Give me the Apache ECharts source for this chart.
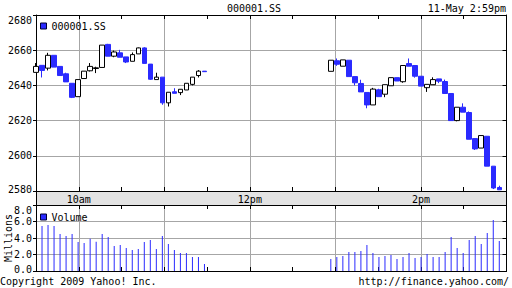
<!DOCTYPE html>
<html><head><meta charset="utf-8">
<script src="https://cdn.jsdelivr.net/npm/echarts@6/dist/echarts.min.js"></script>
<style>html,body{margin:0;padding:0;background:#fff}#c{width:512px;height:288px}</style>
</head><body><div id="c"></div>
<script>
// ---- data ----
const symbol = '000001.SS';
const stamp = '11-May 2:59pm';
const copyright = 'Copyright 2009 Yahoo! Inc.';
const sourceUrl = 'http://finance.yahoo.com/';
const volumeUnit = 'Millions';
const timeLabels = ['9:30','10am','10:30','11am','11:30','12pm','12:30','1pm','1:30','2pm','2:30','3pm'];
const shownTimeLabels = ['10am','12pm','2pm'];
const priceMin = 2580, priceMax = 2680, priceStep = 20;
const volMin = 0, volMax = 8, volStep = 2;
// bar slots across the session (9:30 .. 15:00)
const sessionSlots = 78.2;
const morningFirstSlot = 0;
const afternoonFirstSlot = 49;
const morningVolumeFirstSlot = 1;
// [open, close, low, high]
const morningOHLC = [
  [2647.4,2650.8,2647.4,2652.7],[2651.4,2648.5,2644.5,2651.4],[2649.8,2657.1,2648.5,2658.5],
  [2657.1,2650.4,2650.4,2657.1],[2650.8,2645.6,2645.6,2650.8],[2646.6,2642.0,2642.0,2647.2],
  [2641.2,2633.2,2632.8,2641.2],[2633.6,2643.3,2633.6,2643.3],[2643.9,2648.1,2643.9,2648.1],
  [2648.3,2650.8,2647.9,2652.7],[2649.6,2650.0,2647.0,2650.6],[2650.2,2662.9,2650.2,2662.9],
  [2663.3,2656.6,2656.6,2663.6],[2656.6,2659.0,2656.0,2659.8],[2658.5,2656.0,2656.0,2660.2],
  [2656.2,2653.3,2652.7,2656.2],[2653.7,2657.5,2653.7,2658.7],[2657.9,2661.3,2657.9,2661.5],
  [2661.3,2652.5,2652.5,2661.7],[2652.1,2643.5,2643.1,2652.1],[2643.3,2644.7,2643.3,2647.2],
  [2644.7,2630.1,2629.0,2644.7],[2630.1,2636.1,2628.0,2636.1],[2636.4,2635.5,2635.5,2638.4],
  [2635.9,2637.8,2634.5,2637.8],[2637.4,2641.2,2637.4,2641.2],[2640.6,2644.7,2640.0,2644.7],
  [2645.6,2648.1,2644.5,2648.7],[2648.1,2647.8,2647.8,2648.1]
];
const afternoonOHLC = [
  [2648.0,2654.3,2648.0,2654.3],[2654.0,2652.0,2651.1,2655.3],[2650.9,2654.5,2650.9,2654.5],
  [2654.3,2645.0,2645.0,2654.3],[2645.0,2641.5,2640.0,2645.0],[2641.1,2636.3,2636.3,2643.2],
  [2636.0,2628.9,2627.0,2636.0],[2628.9,2637.9,2628.9,2638.6],[2637.5,2633.6,2633.6,2638.1],
  [2635.0,2640.4,2633.3,2640.4],[2639.8,2644.4,2639.8,2644.4],[2644.4,2642.5,2642.5,2644.4],
  [2642.1,2651.3,2641.5,2651.3],[2652.4,2650.9,2650.9,2655.3],[2651.3,2645.2,2644.4,2651.3],
  [2645.2,2639.6,2639.6,2645.2],[2638.7,2640.6,2636.3,2640.6],[2640.4,2643.3,2640.4,2644.6],
  [2643.7,2642.4,2641.3,2643.7],[2642.2,2635.4,2635.4,2643.3],[2635.4,2620.0,2620.0,2635.4],
  [2620.0,2627.6,2619.6,2627.6],[2627.6,2624.8,2624.8,2629.8],[2624.6,2609.4,2609.4,2625.2],
  [2609.8,2603.9,2603.3,2609.8],[2604.4,2611.5,2604.4,2611.5],[2611.1,2594.1,2594.1,2611.1],
  [2594.1,2581.7,2581.1,2594.1],[2582.0,2580.7,2580.7,2583.0]
];
// millions
const morningVolume = [5.45,5.58,5.45,4.48,4.24,4.48,3.52,3.39,3.92,3.56,4.48,4.12,3.03,3.15,
  2.79,2.55,2.67,3.52,3.76,2.67,4.24,3.27,2.55,2.18,2.18,1.70,1.70,0.85];
const afternoonVolume = [1.45,1.70,1.82,2.30,2.30,2.42,3.15,2.18,1.70,1.82,1.94,1.45,1.70,2.18,
  1.58,1.70,2.06,1.70,1.70,2.30,4.12,2.79,2.18,3.76,4.24,3.27,4.61,6.18,3.64];

// ---- chart ----
const FONT = 'DejaVu Sans Mono';
const BLUE = '#2a2aff';
const GRIDC = '#a6a6a6';
const txt = {fontFamily: FONT, fontSize: 10, color: '#000'};
const edgeRich = {
  top: {...txt, padding: [11, 0, 0, 0]},
  bottom: {...txt, padding: [0, 0, 4, 0]},
  mid: {...txt}
};

const candleData = morningOHLC.map((d, i) => [morningFirstSlot + i].concat(d))
  .concat(afternoonOHLC.map((d, i) => [afternoonFirstSlot + i].concat(d)));
const volumeData = morningVolume.map((v, i) => [morningVolumeFirstSlot + i, v])
  .concat(afternoonVolume.map((v, i) => [afternoonFirstSlot + i, v]));

const hourly = (idx) => idx % 2 === 1;
function timeAxis(grid, pos, withLabels, withSplit) {
  return {
    type: 'category', gridIndex: grid, position: pos, data: timeLabels, boundaryGap: false,
    axisLine: {show: true, lineStyle: {color: '#000', width: 1}},
    axisTick: {show: true, inside: true, length: 4, interval: 0, lineStyle: {color: '#000'}},
    axisLabel: {show: withLabels, interval: 0, margin: 3, ...txt,
      formatter: v => shownTimeLabels.includes(v) ? v : ''},
    splitLine: {show: withSplit, interval: hourly, lineStyle: {color: GRIDC, width: 1}}
  };
}
function slotAxis(grid) {
  return {type: 'value', gridIndex: grid, min: 0, max: sessionSlots, show: false, position: 'bottom'};
}
function valAxis(grid, pos, min, max, step, main, fmt) {
  return {
    type: 'value', gridIndex: grid, position: pos, min: min, max: max, interval: step,
    axisLine: {show: true, lineStyle: {color: '#000', width: 1}},
    axisTick: {show: true, inside: !main, length: main ? 3 : 4, lineStyle: {color: '#000'}},
    axisLabel: {show: main, margin: 4, ...txt, rich: edgeRich,
      formatter: v => {
        const s = fmt(v);
        if (v === max) return '{top|' + s + '}';
        if (v === min) return '{bottom|' + s + '}';
        return '{mid|' + s + '}';
      }},
    splitLine: {show: main, lineStyle: {color: GRIDC, width: 1}}
  };
}

const chart = echarts.init(document.getElementById('c'), null, {renderer: 'svg'});
chart.setOption({
  animation: false,
  backgroundColor: '#fff',
  grid: [
    {left: 36, top: 15, width: 470.5, height: 176, outerBoundsMode: 'none', containLabel: false},
    {left: 36, top: 205, width: 470.5, height: 66, outerBoundsMode: 'none', containLabel: false}
  ],
  xAxis: [
    slotAxis(0),
    timeAxis(0, 'bottom', true, true),
    timeAxis(0, 'top', false, false),
    slotAxis(1),
    timeAxis(1, 'bottom', false, true),
    timeAxis(1, 'top', false, false)
  ],
  yAxis: [
    valAxis(0, 'left', priceMin, priceMax, priceStep, true, v => String(v)),
    valAxis(0, 'right', priceMin, priceMax, priceStep, false, v => String(v)),
    valAxis(1, 'left', volMin, volMax, volStep, true, v => v.toFixed(1)),
    valAxis(1, 'right', volMin, volMax, volStep, false, v => v.toFixed(1))
  ],
  legend: [
    {data: [{name: symbol, itemStyle: {color: BLUE, borderColor: '#000033', borderWidth: 1}}],
     left: 40, top: 21, itemWidth: 6, itemHeight: 6, icon: 'rect', padding: 0,
     selectedMode: false, textStyle: {...txt}},
    {data: [{name: 'Volume', itemStyle: {color: BLUE, borderColor: '#000033', borderWidth: 1}}],
     left: 40, top: 212, itemWidth: 6, itemHeight: 6, icon: 'rect', padding: 0,
     selectedMode: false, textStyle: {...txt}}
  ],
  series: [
    {
      name: symbol, type: 'candlestick', xAxisIndex: 0, yAxisIndex: 0,
      barWidth: 5,
      dimensions: ['slot', 'open', 'close', 'lowest', 'highest'],
      encode: {x: 0, y: [1, 2, 3, 4]},
      itemStyle: {color: '#fff', color0: BLUE, borderColor: '#000', borderColor0: BLUE, borderWidth: 1},
      data: candleData
    },
    {
      name: 'Volume', type: 'bar', xAxisIndex: 3, yAxisIndex: 2,
      barWidth: 1, itemStyle: {color: BLUE},
      data: volumeData
    }
  ],
  graphic: [
    {type: 'rect', z: -1, silent: true,
     shape: {x: 36.5, y: 191.5, width: 470, height: 14},
     style: {fill: '#e3e3e3', stroke: '#000', lineWidth: 1}},
    {type: 'text', z: 101, x: 254, y: 8,
     style: {text: symbol, font: '10px "DejaVu Sans Mono"', fill: '#000', textAlign: 'center', textVerticalAlign: 'middle'}},
    {type: 'text', z: 101, x: 506, y: 8,
     style: {text: stamp, font: '10px "DejaVu Sans Mono"', fill: '#000', textAlign: 'right', textVerticalAlign: 'middle'}},
    {type: 'text', z: 101, x: 8, y: 238, rotation: Math.PI / 2,
     style: {text: volumeUnit, font: '10px "DejaVu Sans Mono"', fill: '#000', textAlign: 'center', textVerticalAlign: 'middle'}},
    {type: 'text', z: 101, x: 0, y: 281,
     style: {text: copyright, font: '10px "DejaVu Sans Mono"', fill: '#000', textAlign: 'left', textVerticalAlign: 'middle'}},
    {type: 'text', z: 101, x: 509, y: 281,
     style: {text: sourceUrl, font: '10px "DejaVu Sans Mono"', fill: '#000', textAlign: 'right', textVerticalAlign: 'middle'}}
  ]
});
</script></body></html>
